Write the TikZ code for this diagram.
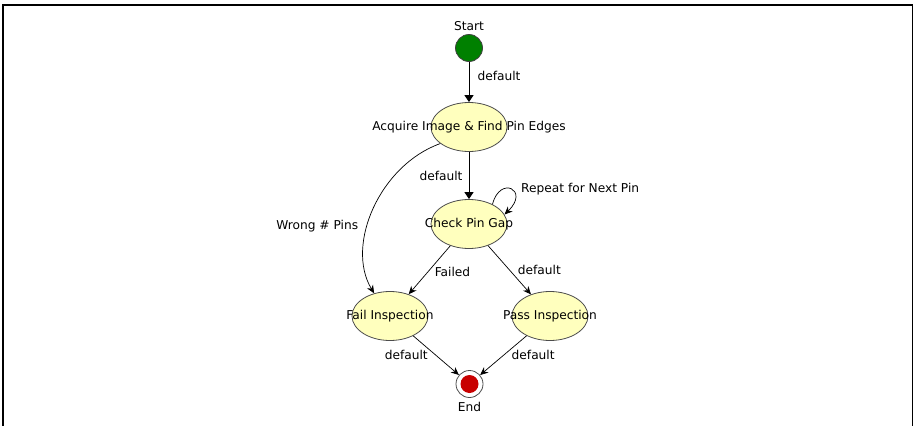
\documentclass[tikz,border=0pt]{standalone}
\usepackage{fontspec}
\setmainfont{DejaVu Sans}
\usepackage{tikz}
\usetikzlibrary{positioning, calc, shapes.geometric, arrows.meta}
\definecolor{stateyellow}{RGB}{255,255,190}
\definecolor{startgreen}{RGB}{0,128,0}
\definecolor{endred}{RGB}{200,0,0}
\tikzstyle{every state}=[ellipse, draw=black!70, line width=0.8pt, fill=stateyellow, minimum width=76pt, minimum height=49pt, inner sep=0pt]
\tikzstyle{startdot}=[circle, draw=black!75, line width=0.8pt, fill=startgreen, minimum size=27pt, inner sep=0pt]
\tikzstyle{enddot}=[circle, draw=black!70, line width=0.8pt, fill=white, minimum size=27pt, inner sep=0pt,
  path picture={\fill[endred] (path picture bounding box.center) circle (9pt);}]
\tikzstyle{lbl}=[font=\fontsize{12.2}{14}\selectfont, inner sep=2pt]
\tikzstyle{arrow}=[-{Triangle[length=7pt, width=9pt]}, line width=1pt]
\tikzstyle{thinarrow}=[-{Stealth[length=8pt, width=7pt]}, line width=0.7pt]

\begin{document}
\begin{tikzpicture}[x=1pt, y=-1pt, font=\fontsize{12.2}{14}\selectfont]
    \useasboundingbox (0,0) rectangle (914,426);
    % frame
    \draw[line width=2.2pt] (3,426) -- (3,5) -- (913,5);
    \draw[line width=1.4pt] (912.3,5) -- (912.3,426);

    \node[startdot, label={[lbl, inner sep=3pt]above:Start}] (start) at (469,48) {};

    \foreach \n/\x/\y/\t in {acquire/469/127/Acquire Image \& Find Pin Edges,
                             check/469/224/Check Pin Gap,
                             fail/390/316/Fail Inspection,
                             pass/550/316/Pass Inspection}
    \node[every state/.try] (\n) at (\x,\y) {\makebox[0pt]{\t}};

    \node[enddot, label={[lbl, inner sep=4pt]below:End}] (end) at (469.5,384) {};

    \draw[arrow] (start) -- (acquire) node[lbl, pos=0.35, right=6pt] {default};
    \draw[arrow] (acquire) -- (check) node[lbl, midway, left=4pt] {default};

    \draw[thinarrow] (acquire.210) .. controls (380,165) and (345,245) .. (fail.125)
    node[lbl, pos=0.6, left=7pt] {Wrong \# Pins};

    \draw[thinarrow] (check.40) .. controls (500,175) and (530,190) .. (check.15)
    node[lbl, pos=0.5, right=8pt] {Repeat for Next Pin};

    \draw[thinarrow] (check) -- (fail) node[lbl, pos=0.55, right=5pt] {Failed};
    \draw[thinarrow] (check) -- (pass) node[lbl, pos=0.5, right=6pt] {default};

    \foreach \s/\side in {fail/left, pass/right}
    \draw[thinarrow] (\s) -- (end) node[lbl, pos=0.5, \side=6pt] {default};

\end{tikzpicture}
\end{document}
